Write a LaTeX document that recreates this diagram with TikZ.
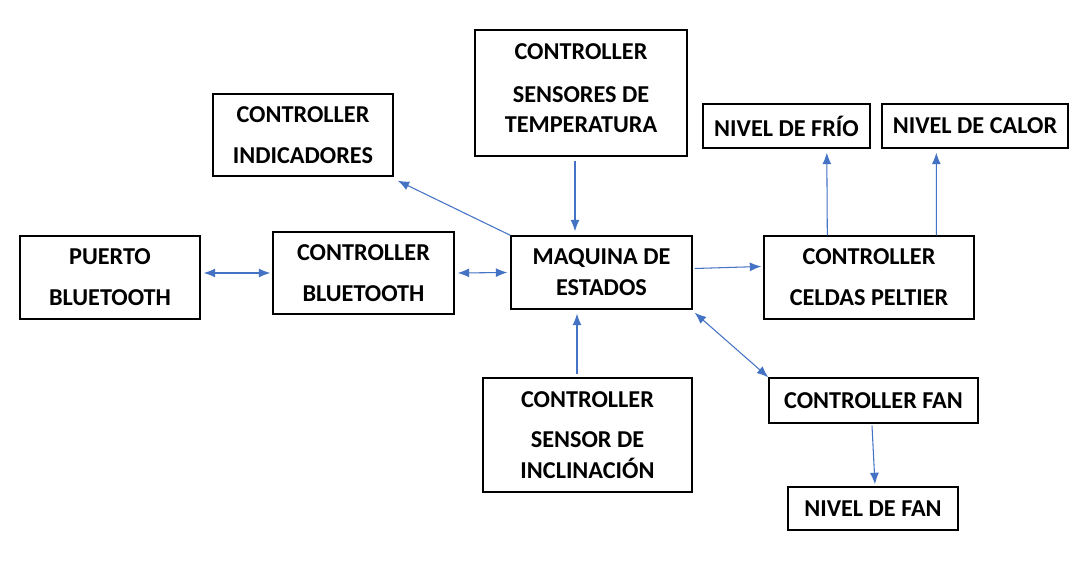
\documentclass[tikz,border=0pt]{standalone}
\usepackage{fontspec}
\setmainfont{Carlito}
\usetikzlibrary{arrows.meta,calc}

\begin{document}
\begin{tikzpicture}[
  x=0.02cm, y=-0.02cm,
  font=\bfseries\fontsize{13.8}{16.6}\selectfont,
  >={Latex[length=2.3mm,width=1.8mm]},
  box/.style={draw=black, line width=0.8pt, align=center, inner sep=0pt},
  arr/.style={->, line width=0.6pt, arrowblue},
  darr/.style={<->, line width=0.6pt, arrowblue},
]
\definecolor{arrowblue}{HTML}{4472C4}
\useasboundingbox[fill=white] (0,0) rectangle (1090,577);

\node[box, minimum width=3.6cm, minimum height=1.66cm] (pbt) at (110,277.5) {PUERTO\\[6.6pt]BLUETOOTH};
\node[box, minimum width=3.62cm, minimum height=1.64cm] (cbt) at (363.5,273) {CONTROLLER\\[6.6pt]BLUETOOTH};
\node[box, minimum width=3.6cm, minimum height=1.64cm] (ind) at (303,135) {CONTROLLER\\[6.6pt]INDICADORES};
\node[box, minimum width=4.24cm, minimum height=2.52cm] (temp) at (581,93) {CONTROLLER\\[7.8pt]SENSORES DE\\[1pt]TEMPERATURA\\[-11pt]};
\node[box, minimum width=3.62cm, minimum height=1.46cm] (maq) at (601.5,272.5) {MAQUINA DE\\[1pt]ESTADOS};
\node[box, minimum width=3.34cm, minimum height=0.88cm] (frio) at (786.5,126) {NIVEL DE FRÍO};
\node[box, minimum width=3.72cm, minimum height=0.88cm] (calor) at (975,126) {NIVEL DE CALOR};
\node[box, minimum width=4.2cm, minimum height=1.66cm] (pel) at (869,277.5) {CONTROLLER\\[6.6pt]CELDAS PELTIER};
\node[box, minimum width=4.18cm, minimum height=2.28cm] (incl) at (587.5,435) {CONTROLLER\\[6.6pt]SENSOR DE\\[1pt]INCLINACIÓN};
\node[box, minimum width=4.18cm, minimum height=0.9cm] (fan) at (873.5,400.5) {CONTROLLER FAN};
\node[box, minimum width=3.4cm, minimum height=0.86cm] (nfan) at (873,508.5) {NIVEL DE FAN};

\draw[darr] ($(cbt.west -| pbt.east)+(3,0)$) -- ($(cbt.west)+(-2,0)$);
\draw[darr] ($(cbt.east)+(3,0)$) -- ($(maq.west)+(-3,0)$);
\draw[arr] (maq.north west) -- ($(ind.south east)+(4,4)$);
\draw[arr] ($(temp.south)+(-6,4)$) -- ($(maq.north)+(-26.5,-4)$);
\draw[arr] ($(incl.north)+(-10.5,-3)$) -- ($(maq.south)+(-24.5,4)$);
\draw[arr] ($(maq.east)+(2,-4)$) -- ($(pel.west)+(-2,-11)$);
\draw[darr] ($(maq.south east)+(2,3)$) -- (fan.north west);
\draw[arr] ($(pel.north west)+(64,0)$) -- ($(frio.south west)+(124.5,4)$);
\draw[arr] ($(pel.north west)+(173,0)$) -- ($(calor.south west)+(55,4)$);
\draw[arr] ($(fan.south)+(-1.5,2)$) -- ($(nfan.north)+(2,-2)$);
\end{tikzpicture}
\end{document}
